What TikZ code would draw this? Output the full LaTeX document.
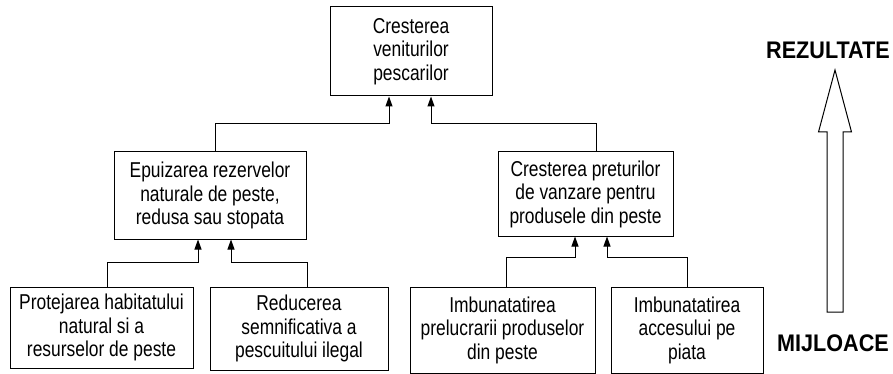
\documentclass[tikz,border=0pt]{standalone}
\usepackage{fontspec}
\setmainfont{Liberation Sans}[FakeStretch=0.81]
\newfontfamily\labelfont{Liberation Sans}[FakeStretch=0.9]
\usetikzlibrary{arrows.meta}

\tikzset{
  goal/.style={draw, line width=1pt, align=center, inner sep=2pt,
    font=\fontsize{21.5}{23.5}\selectfont},
  link/.style={line width=1pt, -{Triangle[width=7pt,length=10pt]}},
  side/.style={font=\labelfont\bfseries\fontsize{24}{28}\selectfont, inner sep=0pt},
}

\begin{document}
\begin{tikzpicture}[x=1pt,y=-1pt]
\useasboundingbox (0,0) rectangle (893,374);
% objectives
\node[goal, minimum width=162pt, minimum height=89pt] (venit) at (411,51.5) {Cresterea\\veniturilor\\pescarilor};
\node[goal, minimum width=192pt, minimum height=87pt] (epuiz) at (210,195.5) {Epuizarea rezervelor\\naturale de peste,\\redusa sau stopata};
\node[goal, minimum width=175pt, minimum height=84pt] (pret) at (585.5,194) {Cresterea preturilor\\de vanzare pentru\\produsele din peste};
% means
\node[goal, minimum width=183pt, minimum height=81pt] (habit) at (101.5,327.5) {Protejarea habitatului\\natural si a\\resurselor de peste};
\node[goal, minimum width=178pt, minimum height=83pt] (ilegal) at (299,328.5) {Reducerea\\semnificativa a\\pescuitului ilegal};
\node[goal, minimum width=185pt, minimum height=86pt] (prelu) at (502.5,330) {Imbunatatirea\\prelucrarii produselor\\din peste};
\node[goal, minimum width=152pt, minimum height=86pt] (piata) at (687,330) {Imbunatatirea\\accesului pe\\piata};
% links
\draw[link] ([xshift=5pt]epuiz.north) -- ++(0,-28) -| ([xshift=-22pt]venit.south);
\draw[link] ([xshift=10.5pt]pret.north) -- ++(0,-28) -| ([xshift=20pt]venit.south);
\draw[link] ([xshift=5.5pt]habit.north) -- ++(0,-24) -| ([xshift=-12pt]epuiz.south);
\draw[link] ([xshift=8pt]ilegal.north) -- ++(0,-24) -| ([xshift=21pt]epuiz.south);
\draw[link] ([xshift=3.5pt]prelu.north) -- ++(0,-29) -| ([xshift=-10.5pt]pret.south);
\draw[link] (piata.north) -- ++(0,-29) -| ([xshift=21.5pt]pret.south);
% direction
\node[side] (rez) at (828,50) {REZULTATE};
\node[side] (mij) at (833,343) {MIJLOACE};
\draw[line width=1pt] (835,70) -- (851.5,132) -- (843,132) -- (843,312)
  -- (827,312) -- (827,132) -- (818.5,132) -- cycle;
\end{tikzpicture}
\end{document}
